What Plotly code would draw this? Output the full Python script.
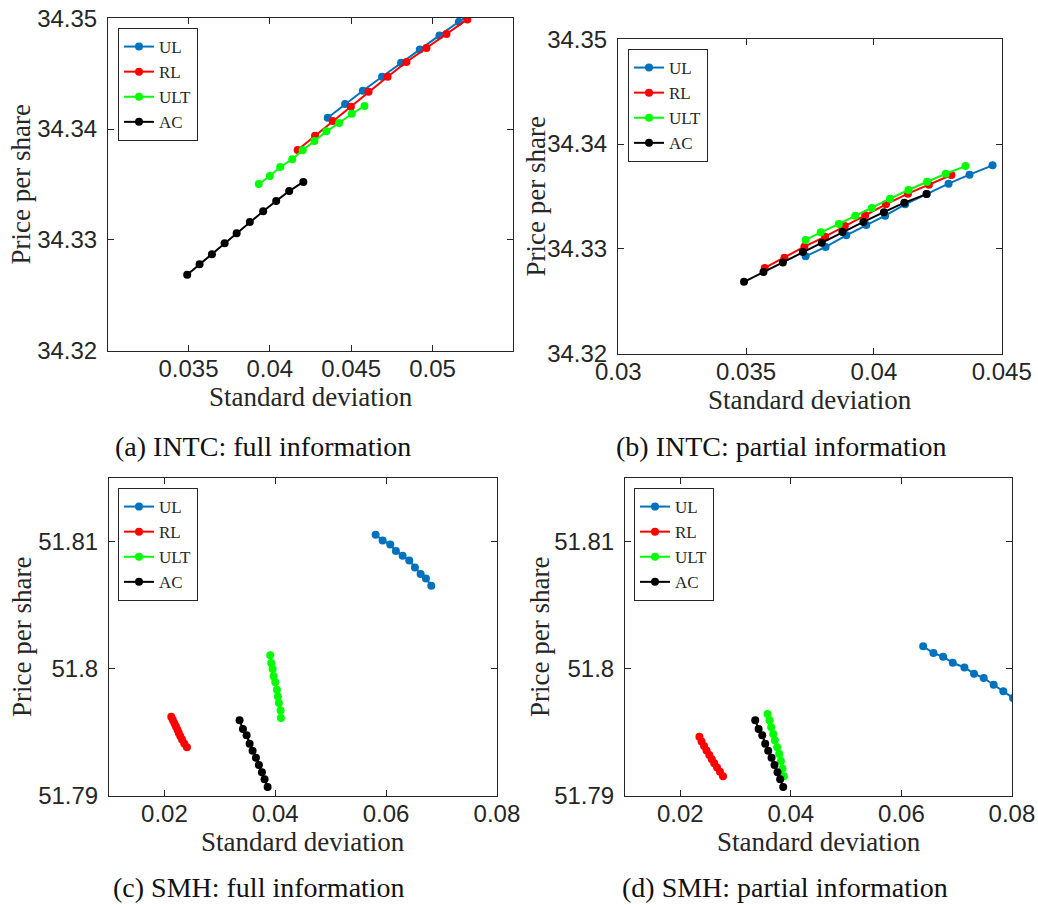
import plotly.graph_objects as go

# ---------------- data ----------------
series_names = ["UL", "RL", "ULT", "AC"]
series_colors = ["#0072BD", "#FF0000", "#00FF00", "#000000"]

# (a) INTC full information
a_ul_x = [0.04356, 0.04463, 0.04572, 0.04690, 0.04807, 0.04922, 0.05043, 0.05162, 0.05282, 0.05402]
a_ul_y = [34.34102, 34.34225, 34.34345, 34.34471, 34.34597, 34.34718, 34.34844, 34.34967, 34.35090, 34.35210]
a_rl_x = [0.04171, 0.04278, 0.04387, 0.04498, 0.04607, 0.04724, 0.04840, 0.04963, 0.05086, 0.05214]
a_rl_y = [34.33811, 34.33940, 34.34072, 34.34201, 34.34336, 34.34471, 34.34604, 34.34730, 34.34856, 34.34988]
a_ult_x = [0.03932, 0.04000, 0.04064, 0.04138, 0.04202, 0.04274, 0.04348, 0.04426, 0.04504, 0.04582]
a_ult_y = [34.33505, 34.33577, 34.33658, 34.33727, 34.33808, 34.33892, 34.33979, 34.34054, 34.34138, 34.34207]
intc_ac_x = [0.03492, 0.03568, 0.03644, 0.03722, 0.03796, 0.03877, 0.03959, 0.04039, 0.04119, 0.04206]
intc_ac_y = [34.32687, 34.32781, 34.32871, 34.32970, 34.33060, 34.33162, 34.33258, 34.33351, 34.33441, 34.33523]

# (b) INTC partial information
b_ul_x = [0.03733, 0.03811, 0.03892, 0.03970, 0.04044, 0.04122, 0.04206, 0.04292, 0.04374, 0.04464]
b_ul_y = [34.32930, 34.33019, 34.33130, 34.33229, 34.33317, 34.33425, 34.33524, 34.33622, 34.33708, 34.33797]
b_rl_x = [0.03573, 0.03650, 0.03728, 0.03809, 0.03886, 0.03966, 0.04047, 0.04133, 0.04215, 0.04303]
b_rl_y = [34.32819, 34.32917, 34.33022, 34.33117, 34.33219, 34.33321, 34.33425, 34.33527, 34.33612, 34.33705]
b_ult_x = [0.03733, 0.03792, 0.03863, 0.03927, 0.03992, 0.04063, 0.04135, 0.04208, 0.04281, 0.04358]
b_ult_y = [34.33086, 34.33159, 34.33238, 34.33317, 34.33390, 34.33479, 34.33562, 34.33641, 34.33717, 34.33790]

# (c) SMH full information
c_ul_x = [0.05811, 0.05937, 0.06075, 0.06177, 0.06298, 0.06418, 0.06520, 0.06623, 0.06719, 0.06815]
c_ul_y = [51.81053, 51.81009, 51.80977, 51.80925, 51.80888, 51.80852, 51.80797, 51.80744, 51.80710, 51.80653]
c_rl_x = [0.02123, 0.02150, 0.02180, 0.02208, 0.02235, 0.02260, 0.02288, 0.02318, 0.02358, 0.02406]
c_rl_y = [51.79623, 51.79599, 51.79572, 51.79545, 51.79520, 51.79494, 51.79468, 51.79443, 51.79412, 51.79382]
c_ult_x = [0.03910, 0.03928, 0.03952, 0.03970, 0.04000, 0.04030, 0.04048, 0.04066, 0.04096, 0.04102]
c_ult_y = [51.80105, 51.80045, 51.79997, 51.79940, 51.79893, 51.79835, 51.79782, 51.79730, 51.79672, 51.79612]
smh_ac_x = [0.03356, 0.03417, 0.03483, 0.03537, 0.03591, 0.03651, 0.03705, 0.03759, 0.03807, 0.03862]
smh_ac_y = [51.79594, 51.79526, 51.79476, 51.79410, 51.79355, 51.79300, 51.79243, 51.79185, 51.79130, 51.79070]

# (d) SMH partial information
d_ul_x = [0.06394, 0.06580, 0.06755, 0.06929, 0.07140, 0.07314, 0.07489, 0.07669, 0.07844, 0.08020]
d_ul_y = [51.80176, 51.80123, 51.80094, 51.80047, 51.80010, 51.79961, 51.79927, 51.79874, 51.79822, 51.79770]
d_rl_x = [0.02346, 0.02385, 0.02430, 0.02475, 0.02525, 0.02570, 0.02615, 0.02665, 0.02718, 0.02773]
d_rl_y = [51.79465, 51.79428, 51.79393, 51.79357, 51.79322, 51.79289, 51.79257, 51.79224, 51.79189, 51.79154]
d_ult_x = [0.03579, 0.03615, 0.03645, 0.03681, 0.03711, 0.03753, 0.03789, 0.03820, 0.03850, 0.03874]
d_ult_y = [51.79644, 51.79594, 51.79539, 51.79486, 51.79437, 51.79382, 51.79329, 51.79274, 51.79216, 51.79154]

# tick labels
intc_y_ticks = [34.32, 34.33, 34.34, 34.35]
intc_y_text = ["34.32", "34.33", "34.34", "34.35"]
a_x_ticks = [0.035, 0.04, 0.045, 0.05]
a_x_text = ["0.035", "0.04", "0.045", "0.05"]
b_x_ticks = [0.03, 0.035, 0.04, 0.045]
b_x_text = ["0.03", "0.035", "0.04", "0.045"]
smh_y_ticks = [51.79, 51.80, 51.81]
smh_y_text = ["51.79", "51.8", "51.81"]
smh_x_ticks = [0.02, 0.04, 0.06, 0.08]
smh_x_text = ["0.02", "0.04", "0.06", "0.08"]

captions = ["(a) INTC: full information", "(b) INTC: partial information",
            "(c) SMH: full information", "(d) SMH: partial information"]
x_title = "Standard deviation"
y_title = "Price per share"

# ---------------- figure ----------------
W, H = 1038, 905
SERIF = "Liberation Serif"
SANS = "Liberation Sans, Arial, sans-serif"
AXC = "#262626"

panels = [
    dict(data=[(a_ul_x, a_ul_y), (a_rl_x, a_rl_y), (a_ult_x, a_ult_y), (intc_ac_x, intc_ac_y)],
         px=(108, 513), py=(18, 351), xr=[0.03005, 0.05495], yr=[34.31999, 34.35001],
         xt=(a_x_ticks, a_x_text), yt=(intc_y_ticks, intc_y_text), leg=(118, 28), ytoff=88),
    dict(data=[(b_ul_x, b_ul_y), (b_rl_x, b_rl_y), (b_ult_x, b_ult_y), (intc_ac_x, intc_ac_y)],
         px=(618, 1002), py=(39, 354), xr=[0.02999, 0.04501], yr=[34.31999, 34.35001],
         xt=(b_x_ticks, b_x_text), yt=(intc_y_ticks, intc_y_text), leg=(628, 49), ytoff=83),
    dict(data=[(c_ul_x, c_ul_y), (c_rl_x, c_rl_y), (c_ult_x, c_ult_y), (smh_ac_x, smh_ac_y)],
         px=(109, 497), py=(478, 796), xr=[0.01, 0.08001], yr=[51.78999, 51.815],
         xt=(smh_x_ticks, smh_x_text), yt=(smh_y_ticks, smh_y_text), leg=(118, 488), ytoff=87),
    dict(data=[(d_ul_x, d_ul_y), (d_rl_x, d_rl_y), (d_ult_x, d_ult_y), (smh_ac_x, smh_ac_y)],
         px=(625, 1012), py=(478, 796), xr=[0.01, 0.08001], yr=[51.78999, 51.815],
         xt=(smh_x_ticks, smh_x_text), yt=(smh_y_ticks, smh_y_text), leg=(634, 488), ytoff=85),
]

fig = go.Figure()
layout = dict(width=W, height=H, margin=dict(l=0, r=0, t=0, b=0, pad=0, autoexpand=False),
              paper_bgcolor="white", plot_bgcolor="white", showlegend=True)
annotations = []

for i, p in enumerate(panels):
    n = i + 1
    xa = "x" if n == 1 else f"x{n}"
    ya = "y" if n == 1 else f"y{n}"
    lg = "legend" if n == 1 else f"legend{n}"
    for (xs, ys), name, col in zip(p["data"], series_names, series_colors):
        fig.add_trace(go.Scatter(x=xs, y=ys, mode="lines+markers", name=name,
                                 line=dict(color=col, width=2),
                                 marker=dict(color=col, size=8, symbol="circle"),
                                 xaxis=xa, yaxis=ya, legend=lg, cliponaxis=True))
    axis_common = dict(showgrid=False, zeroline=False, showline=True, linecolor=AXC,
                       linewidth=1, mirror="ticks", ticks="inside", ticklen=6,
                       tickcolor=AXC, automargin=False,
                       tickfont=dict(family=SANS, size=24, color=AXC))
    xdom = [p["px"][0] / W, p["px"][1] / W]
    ydom = [1 - p["py"][1] / H, 1 - p["py"][0] / H]
    layout["xaxis" if n == 1 else f"xaxis{n}"] = dict(
        axis_common, domain=xdom, range=p["xr"], anchor=ya,
        tickvals=p["xt"][0], ticktext=p["xt"][1], ticklabelstandoff=-4)
    layout["yaxis" if n == 1 else f"yaxis{n}"] = dict(
        axis_common, domain=ydom, range=p["yr"], anchor=xa,
        tickvals=p["yt"][0], ticktext=p["yt"][1], ticklabelstandoff=5)
    layout[lg] = dict(x=p["leg"][0] / W, y=1 - p["leg"][1] / H, xanchor="left", yanchor="top",
                      bgcolor="white", bordercolor=AXC, borderwidth=1,
                      font=dict(family=SERIF, size=17, color=AXC),
                      itemwidth=30, tracegroupgap=0)
    # axis titles
    xc = (p["px"][0] + p["px"][1]) / 2 / W
    annotations.append(dict(text=x_title, x=xc, y=1 - (p["py"][1] + 46) / H, xref="paper", yref="paper",
                            showarrow=False, xanchor="center", yanchor="middle",
                            font=dict(family=SERIF, size=27, color=AXC)))
    yc = 1 - (p["py"][0] + p["py"][1]) / 2 / H
    annotations.append(dict(text=y_title, x=(p["px"][0] - p["ytoff"]) / W, y=yc, xref="paper", yref="paper",
                            showarrow=False, xanchor="center", yanchor="middle", textangle=-90,
                            font=dict(family=SERIF, size=27, color=AXC)))

cap_pos = [(263, 446), (781, 446), (259, 887), (785, 887)]
for (cx, cy), txt in zip(cap_pos, captions):
    annotations.append(dict(text=txt, x=cx / W, y=1 - cy / H, xref="paper", yref="paper",
                            showarrow=False, xanchor="center", yanchor="middle",
                            font=dict(family=SERIF, size=28, color="#111111")))

layout["annotations"] = annotations
fig.update_layout(**layout)
fig.write_html("out.html", config={"displayModeBar": False},
               post_script="document.body.style.margin='0';document.body.style.overflow='hidden';")
